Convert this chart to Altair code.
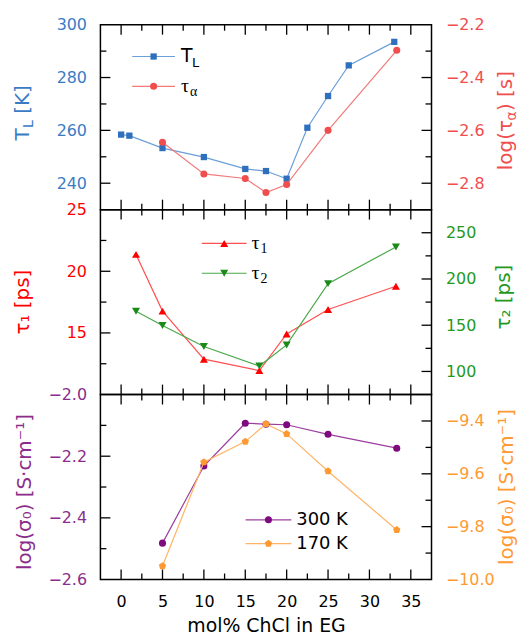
import altair as alt
import pandas as pd

# ---------------- data ----------------
x_TL = [0, 1, 5, 10, 15, 17.5, 20, 22.5, 25, 27.5, 33.0]
T_L = [258.4, 258.0, 253.3, 249.9, 245.4, 244.6, 241.7, 261.0, 273.0, 284.6, 293.5]

x_taua = [5, 10, 15, 17.5, 20, 25, 33.3]
log_tau_a = [-2.645, -2.765, -2.782, -2.835, -2.805, -2.60, -2.297]

x_tau = [1.8, 5, 10, 16.7, 20, 25, 33.2]
tau1 = [21.37, 16.77, 12.87, 11.94, 14.92, 16.9, 18.79]
tau2 = [165, 149.6, 127, 105.8, 128.7, 195, 234.6]

x_sig = [5, 10, 15, 17.5, 20, 25, 33.3]
sig300 = [-2.482, -2.232, -2.093, -2.096, -2.098, -2.129, -2.174]
sig170 = [-9.949, -9.556, -9.478, -9.411, -9.449, -9.590, -9.8125]

x_major = [0, 5, 10, 15, 20, 25, 30, 35]
x_minor = [2.5, 7.5, 12.5, 17.5, 22.5, 27.5, 32.5]

# ---------------- style ----------------
W, H = 333, 186
XDOM = [-2.5, 37.5]
FONT = "DejaVu Sans"
BLUE, BLUE_L = "#2f70bd", "#6b9fd8"
SALM, SALM_L = "#f04e4e", "#f27a7a"
RED = "#ff0000"
GREEN, GREEN_L = "#1b8a1b", "#4aa84a"
PURP, PURP_L = "#7e0a80", "#9b3e9d"
ORNG, ORNG_L = "#ff9a33", "#ffb366"
PENTAGON = "M0,-1L0.951,-0.309L0.588,0.809L-0.588,0.809L-0.951,-0.309Z"

one = pd.DataFrame({"a": [0]})


def xenc(axis=None):
    return alt.X("x:Q", scale=alt.Scale(domain=XDOM, nice=False, zero=False), axis=axis)


def yaxis(orient, values, color, fmt):
    return alt.Axis(orient=orient, values=values, labelColor=color, tickSize=0,
                    domain=False, grid=False, labelPadding=14, title=None,
                    labelFontSize=16, labelFont=FONT, format=fmt,
                    labelOverlap=False, labelBound=False)


def series(xs, ys, dom, color, lcolor, shape, size, axis, xaxis=None):
    df = pd.DataFrame({"x": xs, "y": ys})
    return alt.Chart(df).mark_line(
        color=lcolor, strokeWidth=1.2,
        point=alt.OverlayMarkDef(shape=shape, size=size, filled=True,
                                 color=color, opacity=1)
    ).encode(x=xenc(xaxis),
             y=alt.Y("y:Q", scale=alt.Scale(domain=dom, nice=False, zero=False), axis=axis))


def xticks(xaxis=None):
    out = []
    for vals, L in ((x_major, 10), (x_minor, 6)):
        df = pd.DataFrame({"x": vals})
        base = alt.Chart(df).mark_rule(color="black", strokeWidth=1.3)
        out.append(base.encode(x=xenc(xaxis), y=alt.value(H - L), y2=alt.value(H)))
        out.append(base.encode(x=xenc(xaxis), y=alt.value(0), y2=alt.value(L)))
    return out


def yticks(major, minor, dom, side):
    out = []
    for vals, L in ((major, 10), (minor, 6)):
        df = pd.DataFrame({"v": vals})
        ye = alt.Y("v:Q", scale=alt.Scale(domain=dom, nice=False, zero=False), axis=None)
        base = alt.Chart(df).mark_rule(color="black", strokeWidth=1.3)
        if side == "left":
            out.append(base.encode(y=ye, x=alt.value(0), x2=alt.value(L)))
        else:
            out.append(base.encode(y=ye, x=alt.value(W - L), x2=alt.value(W)))
    return out


def txt(s, x, y, size, color, angle=0, align="left", dx=0, dy=0, font=FONT):
    kw = dict(text=s, fontSize=size, color=color, align=align, baseline="middle",
              dx=dx, dy=dy, font=font)
    if angle:
        kw["angle"] = angle
    return alt.Chart(one).mark_text(**kw).encode(x=alt.value(x), y=alt.value(y))


def legend_row(x0, x1, y, color, lcolor, shape, size):
    r = alt.Chart(one).mark_rule(color=lcolor, strokeWidth=1.2).encode(
        x=alt.value(x0), x2=alt.value(x1), y=alt.value(y))
    p = alt.Chart(one).mark_point(shape=shape, size=size, filled=True, color=color,
                                  opacity=1).encode(x=alt.value((x0 + x1) / 2), y=alt.value(y))
    return [r, p]


# ---------------- top panel ----------------
dom_TL = [230, 300]
dom_ta = [-2.9, -2.2]
top_layers = [
    series(x_TL, T_L, dom_TL, BLUE, BLUE_L, "square", 40,
           yaxis("left", [240, 260, 280, 300], "#3a7cc4", "d")),
    series(x_taua, log_tau_a, dom_ta, SALM, SALM_L, "circle", 50,
           yaxis("right", [-2.8, -2.6, -2.4, -2.2], SALM, ".1f")),
]
top_layers += xticks()
top_layers += yticks([240, 260, 280], [250, 270, 290], dom_TL, "left")
top_layers += yticks([-2.8, -2.6, -2.4], [-2.3, -2.5, -2.7], dom_ta, "right")
top_layers += legend_row(32, 75, 32, BLUE, BLUE_L, "square", 40)
top_layers += legend_row(32, 75, 62, SALM, SALM_L, "circle", 50)
top_layers += [
    txt("T", 81, 32, 19, "black"),
    txt("L", 92, 32, 13, "black", dy=7),
    txt("τ", 81, 62, 20, "black", font="Liberation Serif"),
    txt("α", 90, 62, 14, "black", dy=6, font="Liberation Serif"),
    # axis titles
    txt("T", -77.5, 116.5, 20, "#3a7cc4", angle=270),
    txt("L", -77.5, 116.5, 14, "#3a7cc4", angle=270, dx=12.5, dy=6),
    txt("[K]", -77.5, 116.5, 20, "#3a7cc4", angle=270, dx=27),
    txt("log(τ", 407.5, 146.3, 20, SALM, angle=270),
    txt("α", 407.5, 146.3, 14, SALM, angle=270, dx=50, dy=6),
    txt(") [s]", 407.5, 146.3, 20, SALM, angle=270, dx=59.5),
]
top = alt.layer(*top_layers).resolve_scale(y="independent").properties(width=W, height=H)

# ---------------- middle panel ----------------
dom_t1 = [10, 25]
dom_t2 = [75, 275]
mid_layers = [
    series(x_tau, tau1, dom_t1, RED, "#ff5050", "triangle-up", 65,
           yaxis("left", [15, 20, 25], RED, "d")),
    series(x_tau, tau2, dom_t2, GREEN, GREEN_L, "triangle-down", 65,
           yaxis("right", [100, 150, 200, 250], "#1f9a1f", "d")),
]
mid_layers += xticks()
mid_layers += yticks([15, 20], [12.5, 17.5, 22.5], dom_t1, "left")
mid_layers += yticks([100, 150, 200, 250], [125, 175, 225], dom_t2, "right")
mid_layers += legend_row(102, 147, 34, RED, "#ff5050", "triangle-up", 65)
mid_layers += legend_row(102, 147, 64, GREEN, GREEN_L, "triangle-down", 65)
mid_layers += [
    txt("τ", 152, 34, 20, "black", font="Liberation Serif"),
    txt("1", 161, 34, 14, "black", dy=6, font="Liberation Serif"),
    txt("τ", 152, 64, 20, "black", font="Liberation Serif"),
    txt("2", 161, 64, 14, "black", dy=6, font="Liberation Serif"),
    txt("τ₁ [ps]", -77.5, 93, 20, RED, angle=270, align="center"),
    txt("τ₂ [ps]", 406, 88, 20, "#1f9a1f", angle=270, align="center"),
]
mid = alt.layer(*mid_layers).resolve_scale(y="independent").properties(width=W, height=H)

# ---------------- bottom panel ----------------
dom_s3 = [-2.6, -2.0]
dom_s1 = [-10.0, -9.3]
XAX = alt.Axis(values=x_major, labelFontSize=16, labelFont=FONT, tickSize=0, domain=False,
               grid=False, labelPadding=14, title="mol% ChCl in EG", titleFontSize=19,
               titleFont=FONT, titleFontWeight="normal", titlePadding=7, format="d",
               labelColor="black", titleColor="black", labelFlush=False, labelOverlap=False)
bot_layers = [
    series(x_sig, sig300, dom_s3, PURP, PURP_L, "circle", 50,
           yaxis("left", [-2.6, -2.4, -2.2, -2.0], "#8a2d8a", ".1f"), XAX),
    series(x_sig, sig170, dom_s1, ORNG, ORNG_L, PENTAGON, 60,
           yaxis("right", [-10.0, -9.8, -9.6, -9.4], ORNG, ".1f"), XAX),
]
bot_layers += xticks(XAX)
bot_layers += yticks([-2.4, -2.2], [-2.5, -2.3, -2.1], dom_s3, "left")
bot_layers += yticks([-9.8, -9.6, -9.4], [-9.9, -9.7, -9.5], dom_s1, "right")
bot_layers += legend_row(146, 192, 126, PURP, PURP_L, "circle", 50)
bot_layers += legend_row(146, 192, 150, ORNG, ORNG_L, PENTAGON, 60)
bot_layers += [
    txt("300 K", 197, 126, 18, "black"),
    txt("170 K", 197, 150, 18, "black"),
    txt("log(σ₀) [S·cm⁻¹]", -76, 98, 20, "#8a2d8a", angle=270, align="center"),
    txt("log(σ₀) [S·cm⁻¹]", 409, 93, 20, ORNG, angle=270, align="center"),
]
bot = alt.layer(*bot_layers).resolve_scale(y="independent").properties(width=W, height=H)

chart = alt.vconcat(top, mid, bot, spacing=0, bounds="flush").properties(
    padding={"left": 12, "top": 14, "right": 0, "bottom": 0}
).configure(font=FONT).configure_view(stroke="black", strokeWidth=1.5).configure_concat(spacing=0)

chart.save("out.html", embed_options={"renderer": "svg", "actions": False})
